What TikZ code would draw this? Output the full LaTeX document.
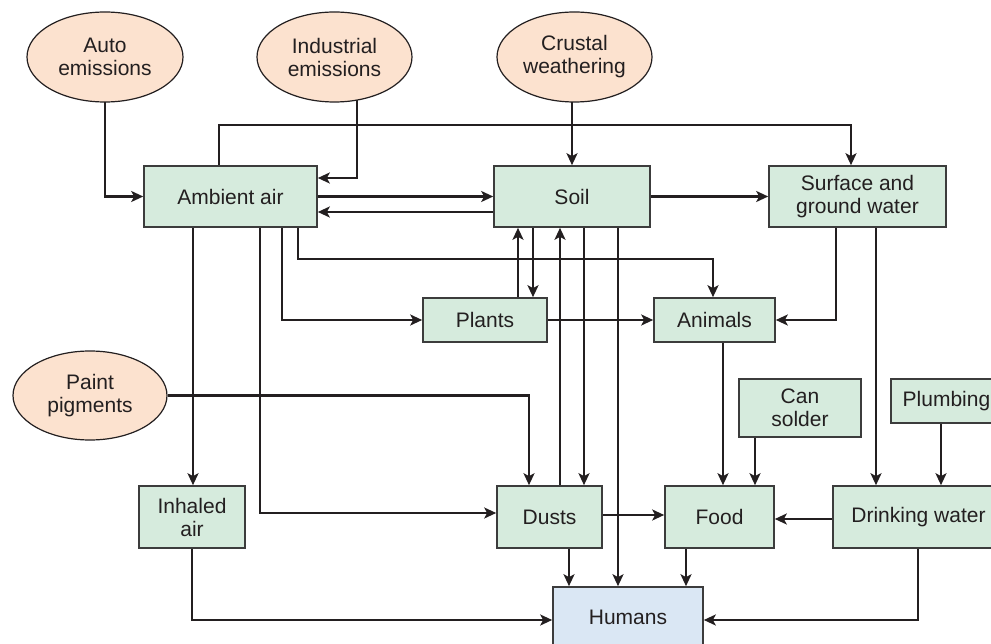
\documentclass[tikz,border=0pt]{standalone}
\usepackage{fontspec}
\setmainfont{Liberation Sans}
\usetikzlibrary{shapes.geometric,arrows.meta}
\pgfdeclarelayer{bg}
\pgfsetlayers{bg,main}
\definecolor{ink}{HTML}{231F20}
\definecolor{edge}{HTML}{3C3C3C}
\definecolor{peach}{HTML}{FCE2CF}
\definecolor{mint}{HTML}{D6EBDD}
\definecolor{sky}{HTML}{DAE7F4}
\tikzset{
  lbl/.style={font=\fontsize{21}{23}\selectfont, text=ink, align=center},
  source/.style={lbl, ellipse, draw=ink, line width=1.2pt, fill=peach, inner sep=0pt},
  stage/.style={lbl, rectangle, draw=edge, line width=1.6pt, fill=mint, inner sep=0pt},
  target/.style={stage, fill=sky},
  flow/.style={draw=ink, line width=2.6pt, -{Stealth[length=12pt,width=11pt,inset=3pt]}},
}
\begin{document}
\begin{tikzpicture}[x=1pt,y=-1pt]
\useasboundingbox (0,0) rectangle (991,644);
\clip (0,0) rectangle (991,644);

% sources
\node[source, minimum width=156, minimum height=90] (auto)  at (105,57)   {Auto\\emissions};
\node[source, minimum width=155, minimum height=90] (indus) at (334.5,57) {Industrial\\emissions};
\node[source, minimum width=155, minimum height=90] (crust) at (574.5,57) {Crustal\\weathering};
\node[source, minimum width=154, minimum height=89] (paint) at (90,395.5) {Paint\\pigments};

% compartments
\node[stage, minimum width=173, minimum height=61] (air)     at (230.5,196.5) {Ambient air};
\node[stage, minimum width=156, minimum height=61] (soil)    at (572,196.5)   {Soil};
\node[stage, minimum width=177, minimum height=61] (water)   at (857.5,196.5) {Surface and\\ground water};
\node[stage, minimum width=124, minimum height=44] (plants)  at (485,320)     {Plants};
\node[stage, minimum width=121, minimum height=44] (animals) at (714.5,320)   {Animals};
\node[stage, minimum width=122, minimum height=58] (can)     at (800,408)     {Can\\solder};
\node[stage, minimum width=111, minimum height=44] (plumb)   at (946.5,401)   {Plumbing};
\node[stage, minimum width=106, minimum height=62] (inhaled) at (192,517)     {Inhaled\\air};
\node[stage, minimum width=105, minimum height=62] (dusts)   at (549.5,517)   {Dusts};
\node[stage, minimum width=109, minimum height=62] (food)    at (719.5,517)   {Food};
\node[stage, minimum width=171, minimum height=62] (drink)   at (918.5,517)   {Drinking water};
\node[target, minimum width=150, minimum height=60] (humans) at (628,617)     {Humans};

\begin{pgfonlayer}{bg}
% emissions and weathering
\draw[flow] (auto.center) |- (air.west);
\draw[flow] (indus.center -| 357,0) |- (air.east |- 0,178);
\draw[flow] (crust.center -| 572,0) -- (soil.north -| 572,0);
\draw[flow] (paint.east) -| (dusts.north -| 529,0);

% ambient air
\draw[flow] (air.north -| 219,0) |- (851,125) -- (water.north -| 851,0);
\draw[flow] (air.east) -- (soil.west);
\draw[flow] (soil.west |- 0,212) -- (air.east |- 0,212);
\draw[flow] (air.south -| 193,0) -- (inhaled.north -| 193,0);
\draw[flow] (air.south -| 260,0) |- (dusts.west |- 0,513);
\draw[flow] (air.south -| 282,0) |- (plants.west);
\draw[flow] (air.south -| 298,0) |- (713,259) -- (animals.north -| 713,0);

% soil
\draw[flow] (soil.east) -- (water.west);
\draw[flow] (plants.north -| 518,0) -- (soil.south -| 518,0);
\draw[flow] (soil.south -| 533,0) -- (plants.north -| 533,0);
\draw[flow] (dusts.north -| 560,0) -- (soil.south -| 560,0);
\draw[flow] (soil.south -| 584,0) -- (dusts.north -| 584,0);
\draw[flow] (soil.south -| 618,0) -- (humans.north -| 618,0);

% water
\draw[flow] (water.south -| 836,0) |- (animals.east);
\draw[flow] (water.south -| 876,0) -- (drink.north -| 876,0);

% food chain
\draw[flow] (plants.east) -- (animals.west);
\draw[flow] (animals.south -| 723,0) -- (food.north -| 723,0);
\draw[flow] (can.south -| 755,0) -- (food.north -| 755,0);
\draw[flow] (plumb.south -| 941,0) -- (drink.north -| 941,0);
\draw[flow] (drink.west |- 0,519) -- (food.east |- 0,519);
\draw[flow] (dusts.east |- 0,515) -- (food.west |- 0,515);

% exposure of humans
\draw[flow] (dusts.south -| 569,0) -- (humans.north -| 569,0);
\draw[flow] (food.south -| 686,0) -- (humans.north -| 686,0);
\draw[flow] (inhaled.south) |- (humans.west |- 0,620);
\draw[flow] (drink.south -| 918,0) |- (humans.east |- 0,620);
\end{pgfonlayer}
\end{tikzpicture}
\end{document}
